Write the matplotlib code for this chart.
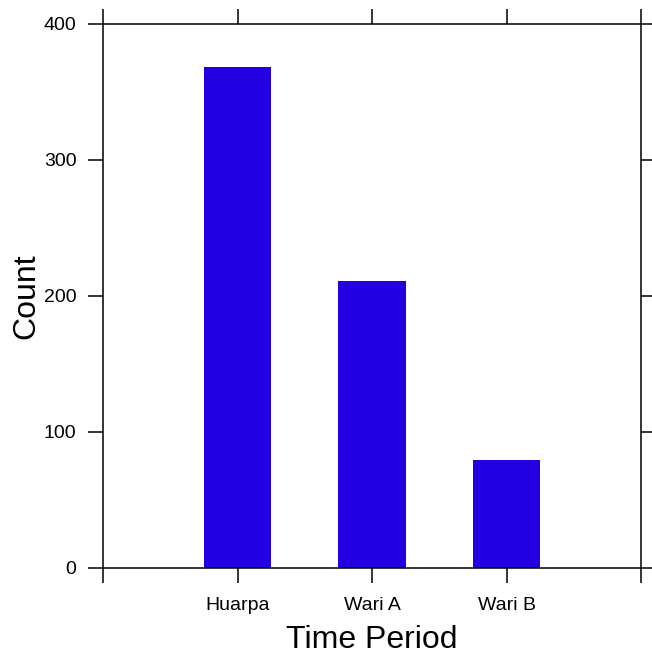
import matplotlib
matplotlib.use("Agg")
import matplotlib.pyplot as plt

periods = ["Huarpa", "Wari A", "Wari B"]
counts = [368, 211, 79]
yticks = [0, 100, 200, 300, 400]

plt.rcParams['font.family'] = ['Liberation Sans', 'DejaVu Sans']

fig = plt.figure(figsize=(6.52, 6.54), dpi=100)
ax = fig.add_axes([103/652, 1-567.5/654, (641-103)/652, (567.5-24)/654])

x = list(range(1, len(periods) + 1))
ax.bar(x, counts, width=0.5, color="#2200E2", edgecolor="none")

ax.set_xlim(0, len(periods) + 1)
ax.set_ylim(0, 400)
ax.set_xticks([0] + x + [len(periods) + 1])
ax.set_xticklabels([""] + periods + [""])
ax.set_yticks(yticks)

for s in ax.spines.values():
    s.set_linewidth(1.1)
    s.set_color("black")

ax.tick_params(axis="both", direction="out", length=11, width=1.1,
               labelsize=14, colors="black",
               top=True, right=True, labeltop=False, labelright=False)
ax.tick_params(axis="x", pad=10)
ax.tick_params(axis="y", pad=8)

ax.set_xlabel("Time Period", fontsize=23, labelpad=8)
ax.set_ylabel("Count", fontsize=23, labelpad=2)

fig.savefig("out.png", dpi=100, facecolor="white")
